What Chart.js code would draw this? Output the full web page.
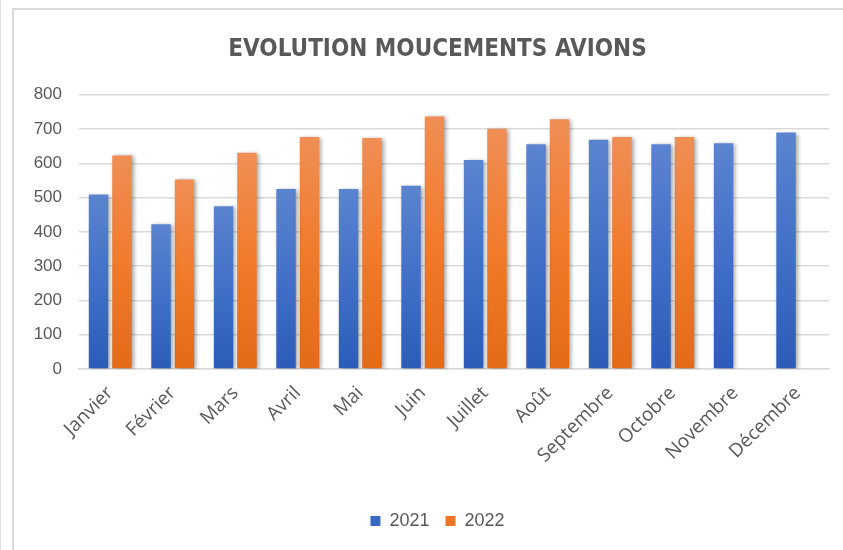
<!DOCTYPE html>
<html>
<head>
<meta charset="utf-8">
<script src="https://cdn.jsdelivr.net/npm/chart.js@4.4.1/dist/chart.umd.min.js"></script>
<style>
  html, body { margin: 0; padding: 0; background: #fff; }
  #wrap { position: relative; width: 843px; height: 550px; overflow: hidden; }
  #c { position: absolute; left: 0; top: 0; }
  .ln { position: absolute; background: #d9d9d9; }
</style>
</head>
<body>
<div id="wrap">
  <canvas id="c" width="843" height="550"></canvas>
  <div class="ln" style="left:0;top:0;width:1px;height:550px;background:#e0e0e0"></div>
  <div class="ln" style="left:12px;top:8px;width:831px;height:2px;"></div>
  <div class="ln" style="left:12px;top:8px;width:2px;height:542px;"></div>
</div>
<script>
const titleText = "EVOLUTION MOUCEMENTS AVIONS";
const months = ["Janvier","Février","Mars","Avril","Mai","Juin","Juillet","Août","Septembre","Octobre","Novembre","Décembre"];
const series2021 = [509, 422, 475, 525, 525, 535, 610, 656, 669, 656, 659, 690];
const series2022 = [623, 553, 631, 677, 674, 737, 701, 729, 677, 677, null, null];
const seriesNames = ["2021", "2022"];
const yTicks = [0, 100, 200, 300, 400, 500, 600, 700, 800];

const grey = "#595959";

function barGradient(light, dark) {
  return function (ctx) {
    const chart = ctx.chart;
    const y = chart.scales && chart.scales.y;
    if (!y || ctx.raw == null || ctx.type !== "data") return dark.end;
    const top = y.getPixelForValue(ctx.raw);
    const base = y.getPixelForValue(0);
    if (!isFinite(top) || !isFinite(base) || top === base) return dark.end;
    const g = chart.ctx.createLinearGradient(0, top, 0, base);
    g.addColorStop(0, light);
    g.addColorStop(0.5, dark.mid);
    g.addColorStop(1, dark.end);
    return g;
  };
}

const shadowPlugin = {
  id: "barShadow",
  beforeDatasetsDraw(chart) {
    const c = chart.ctx;
    c.save();
    c.shadowColor = "rgba(0,0,0,0.35)";
    c.shadowBlur = 4;
    c.shadowOffsetX = 2;
    c.shadowOffsetY = 1;
  },
  afterDatasetsDraw(chart) {
    chart.ctx.restore();
  }
};

new Chart(document.getElementById("c"), {
  type: "bar",
  data: {
    labels: months,
    datasets: [
      {
        label: seriesNames[0],
        data: series2021,
        backgroundColor: barGradient("#5b84cf", { mid: "#4270c8", end: "#2c5cb8" }),
        borderWidth: 0,
        categoryPercentage: 0.75,
        barPercentage: 0.83
      },
      {
        label: seriesNames[1],
        data: series2022,
        backgroundColor: barGradient("#f08e55", { mid: "#f17b2b", end: "#e36a17" }),
        borderWidth: 0,
        categoryPercentage: 0.75,
        barPercentage: 0.83
      }
    ]
  },
  options: {
    responsive: false,
    animation: false,
    layout: { padding: { left: 46, right: 14, top: 0, bottom: 10 } },
    plugins: {
      title: {
        display: true,
        text: titleText,
        color: grey,
        font: { family: "'DejaVu Sans Condensed', sans-serif", size: 24, weight: "bold" },
        padding: { top: 35, bottom: 31 }
      },
      legend: {
        display: true,
        position: "bottom",
        labels: {
          color: grey,
          font: { family: "'Liberation Sans', sans-serif", size: 18 },
          boxWidth: 10,
          boxHeight: 10,
          padding: 16,
          generateLabels(chart) {
            const cols = ["#3a68c2", "#ee7625"];
            return chart.data.datasets.map((d, i) => ({
              text: d.label,
              fillStyle: cols[i],
              strokeStyle: cols[i],
              lineWidth: 0,
              fontColor: grey,
              datasetIndex: i,
              hidden: false
            }));
          }
        }
      },
      tooltip: { enabled: false }
    },
    scales: {
      x: {
        afterFit(scale) { scale.height = 127; },
        grid: { display: false, drawTicks: false },
        border: { display: true, color: "#d9d9d9", width: 1.5 },
        ticks: {
          color: grey,
          font: { family: "'Open Sans', sans-serif", size: 19 },
          maxRotation: 45,
          minRotation: 45,
          padding: 13,
          autoSkip: false
        }
      },
      y: {
        min: 0,
        max: 800,
        afterBuildTicks(scale) { scale.ticks = yTicks.map(v => ({ value: v })); },
        afterFit(scale) {
          scale.width = 33;
          scale._computeLabelArea = function () { return undefined; };
        },
        grid: { color: "#d9d9d9", lineWidth: 1.5, drawTicks: false },
        border: { display: false },
        ticks: {
          color: grey,
          font: { family: "'Liberation Sans', sans-serif", size: 17 },
          padding: 17
        }
      }
    }
  },
  plugins: [shadowPlugin]
});
</script>
</body>
</html>
